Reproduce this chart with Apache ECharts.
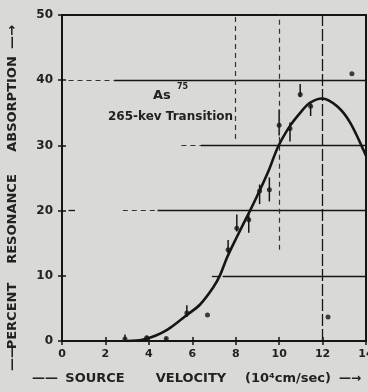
<!DOCTYPE html>
<html>
<head>
<meta charset="utf-8">
<script src="https://cdn.jsdelivr.net/npm/echarts@6/dist/echarts.min.js"></script>
<style>
html,body{margin:0;padding:0;background:#d9d9d5;}
#c{width:368px;height:392px;}
</style>
</head>
<body>
<div id="c"></div>
<script>
// Smooth fitted curve
const curveX = [3.0, 3.7, 4.3, 4.84, 5.3, 5.76, 6.36, 6.96, 7.28, 7.6, 8.0, 8.66, 8.98, 9.5, 9.95, 10.5, 10.97, 11.4, 11.98, 12.67, 13.27, 14.0];
const curveY = [0.0, 0.2, 0.8, 1.7, 2.8, 4.0, 5.6, 8.2, 10.1, 12.8, 15.6, 20.0, 22.2, 26.0, 29.8, 33.0, 35.0, 36.5, 37.2, 36.0, 33.5, 28.4];

// Measured points with error bars
const ptX   = [2.9, 3.9, 4.8, 5.75, 6.7, 7.65, 8.05, 8.6, 9.1, 9.55, 10.0, 10.5, 10.97, 11.45, 12.25, 13.35];
const ptY   = [0.3, 0.5, 0.4, 4.3, 4.0, 14.0, 17.3, 18.6, 23.0, 23.2, 33.1, 32.6, 37.8, 36.0, 3.7, 41.0];
const errLo = [0.0, 0.0, 0.0, 3.7, 4.0, 13.5, 16.8, 16.6, 21.0, 21.4, 31.5, 30.6, 37.4, 34.5, 3.7, 41.0];
const errHi = [1.0, 0.8, 0.5, 5.5, 4.0, 15.5, 19.4, 19.4, 24.0, 25.1, 35.5, 33.5, 39.4, 36.5, 3.7, 41.0];

// Axis ticks
const xTicks = [0, 2, 4, 6, 8, 10, 12, 14];
const yTicks = [0, 10, 20, 30, 40, 50];

const ink = '#151515';
const chart = echarts.init(document.getElementById('c'), null, {renderer: 'canvas'});

const curveData = curveX.map((x, i) => [x, curveY[i]]);
const ptData = ptX.map((x, i) => [x, ptY[i]]);
const errData = ptX.map((x, i) => [x, errLo[i], errHi[i]]);

const solid = {type: 'solid', color: ink, width: 1.3};
const dashed = {type: [5, 4], color: '#333', width: 1.2};
function hSeg(y, x0, x1, st) { return [{coord: [x0, y], lineStyle: st}, {coord: [x1, y]}]; }
function vSeg(x, y0, y1, st) { return [{coord: [x, y0], lineStyle: st}, {coord: [x, y1]}]; }

const labelFont = {fontFamily: 'DejaVu Sans', fontWeight: 'bold', fontSize: 11, color: '#222'};
const nameFont = 'bold 13px "DejaVu Sans"';

function yWord(text, cy) {
  return {type: 'text', x: 13, y: cy, rotation: Math.PI / 2,
          style: {text: text, font: nameFont, fill: '#222', align: 'center', verticalAlign: 'middle'}};
}
function xWord(text, cx, font) {
  return {type: 'text', x: cx, y: 379,
          style: {text: text, font: font || nameFont, fill: '#222', align: 'center', verticalAlign: 'middle'}};
}

const option = {
  backgroundColor: '#d9d9d5',
  animation: false,
  grid: {left: 62, right: 2, top: 15, bottom: 51, containLabel: false, outerBoundsMode: 'none',
         show: true, borderColor: ink, borderWidth: 2, backgroundColor: 'transparent'},
  xAxis: [
    {type: 'value', min: xTicks[0], max: xTicks[xTicks.length - 1], interval: 2,
     axisLine: {show: true, lineStyle: {color: ink, width: 2}},
     axisTick: {show: true, length: 4, lineStyle: {color: ink, width: 1.5}},
     axisLabel: Object.assign({margin: 8, hideOverlap: false}, labelFont),
     splitLine: {show: false}},
    {type: 'value', min: xTicks[0], max: xTicks[xTicks.length - 1], interval: 2, position: 'bottom',
     axisLine: {show: false},
     axisTick: {show: true, inside: true, length: 4, lineStyle: {color: ink, width: 1.5}},
     axisLabel: {show: false}, splitLine: {show: false}}
  ],
  yAxis: [
    {type: 'value', min: yTicks[0], max: yTicks[yTicks.length - 1], interval: 10,
     axisLine: {show: true, lineStyle: {color: ink, width: 2}},
     axisTick: {show: true, length: 4, lineStyle: {color: ink, width: 1.5}},
     axisLabel: Object.assign({margin: 9}, labelFont, {fontSize: 12}),
     splitLine: {show: false}},
    {type: 'value', min: yTicks[0], max: yTicks[yTicks.length - 1], interval: 10, position: 'left',
     axisLine: {show: false},
     axisTick: {show: true, inside: true, length: 4, lineStyle: {color: ink, width: 1.5}},
     axisLabel: {show: false}, splitLine: {show: false}}
  ],
  graphic: [
    {type: 'text', left: 153, top: 89, style: {text: 'As', font: 'bold 13px "DejaVu Sans"', fill: '#222'}},
    {type: 'text', left: 177, top: 83, style: {text: '75', font: 'bold 8px "DejaVu Sans"', fill: '#222'}},
    {type: 'text', left: 108, top: 111, style: {text: '265-kev Transition', font: 'bold 12px "DejaVu Sans"', fill: '#222'}},
    yWord('——', 358), yWord('PERCENT', 316), yWord('RESONANCE', 219), yWord('ABSORPTION', 104), yWord('—→', 37),
    xWord('——', 45), xWord('SOURCE', 95), xWord('VELOCITY', 191), xWord('(10⁴cm/sec)', 288), xWord('—→', 350, 'bold 12px "DejaVu Sans"')
  ],
  series: [
    {
      type: 'line', data: curveData, smooth: 0.3, showSymbol: false, xAxisIndex: 0, yAxisIndex: 0,
      lineStyle: {color: ink, width: 2.6}, z: 5, silent: true,
      markLine: {
        silent: true, symbol: 'none', label: {show: false},
        data: [
          hSeg(40, 0.3, 2.4, dashed), hSeg(40, 2.4, 14, solid),
          hSeg(30, 5.5, 6.4, dashed), hSeg(30, 6.4, 14, solid),
          hSeg(20, 0.3, 0.6, solid), hSeg(20, 2.8, 4.4, dashed), hSeg(20, 4.4, 14, solid),
          hSeg(10, 6.9, 7.3, solid), hSeg(10, 7.4, 14, solid),
          vSeg(8, 31, 50, dashed),
          vSeg(10, 14, 50, dashed),
          vSeg(12, 0, 50, {type: [12, 3], color: ink, width: 1.3})
        ]
      }
    },
    {
      type: 'custom', xAxisIndex: 0, yAxisIndex: 0, data: errData, z: 4, silent: true,
      renderItem: function (params, api) {
        const p0 = api.coord([api.value(0), api.value(1)]);
        const p1 = api.coord([api.value(0), api.value(2)]);
        return {type: 'line', shape: {x1: p0[0], y1: p0[1], x2: p1[0], y2: p1[1]},
                style: {stroke: ink, lineWidth: 1.5}};
      }
    },
    {
      type: 'scatter', data: ptData, xAxisIndex: 0, yAxisIndex: 0, symbol: 'circle', symbolSize: 5,
      itemStyle: {color: ink}, z: 6, silent: true
    }
  ]
};
chart.setOption(option);
</script>
</body>
</html>
